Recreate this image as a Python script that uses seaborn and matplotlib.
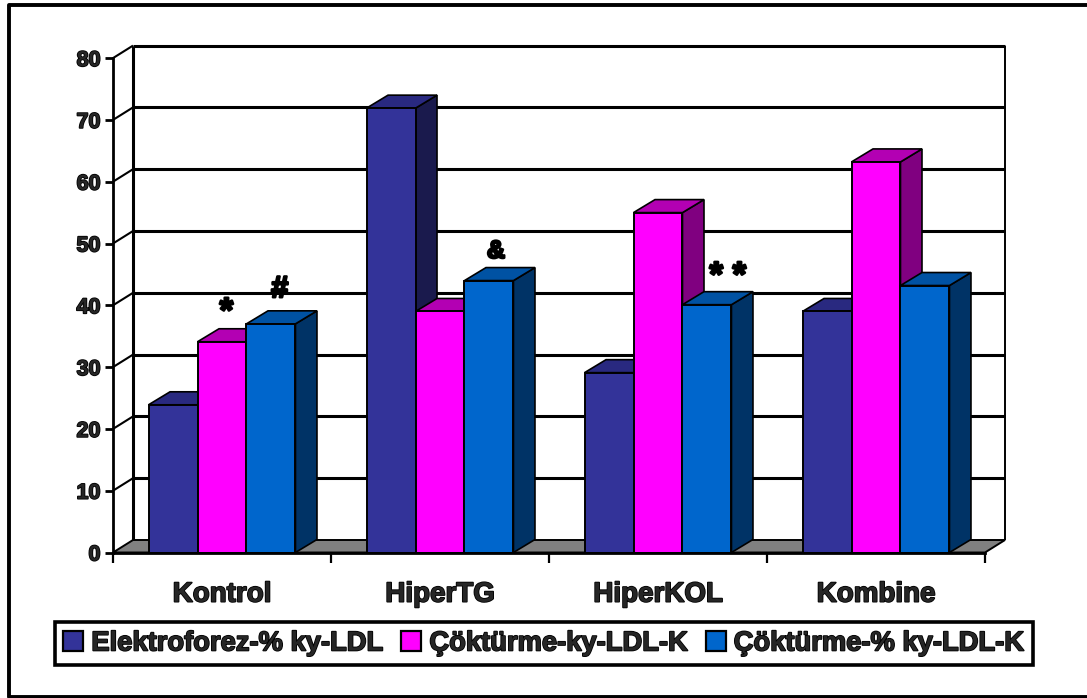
import matplotlib
matplotlib.use("Agg")
import matplotlib.pyplot as plt
import matplotlib.patheffects as pe
from matplotlib.lines import Line2D
from matplotlib.patches import Polygon, Patch
import pandas as pd
import seaborn as sns

# Values per group
categories = ["Kontrol", "HiperTG", "HiperKOL", "Kombine"]
elektroforez = [23.9, 71.9, 29.1, 39.0]
cokturme_k = [34.1, 39.0, 55.0, 63.2]
cokturme_pct = [37.0, 44.0, 40.1, 43.2]
series_names = ["Elektroforez-% ky-LDL", "Çöktürme-ky-LDL-K", "Çöktürme-% ky-LDL-K"]
y_ticks = [0, 10, 20, 30, 40, 50, 60, 70, 80]

# Significance marks: symbol, x in group units, y in axis units, font size
marks = ["*", "#", "&", "* *"]
mark_x = [0.02, 0.265, 1.257, 2.32]
mark_y = [38.9, 42.6, 48.8, 44.7]
mark_size = [25, 22, 18, 25]

front = ["#333399", "#FF00FF", "#0066CC"]
side = ["#1A1A4D", "#800080", "#003366"]
top = ["#292980", "#B300B3", "#0052A3"]

df = pd.DataFrame({
    "group": categories * 3,
    "series": [n for n in series_names for _ in categories],
    "value": elektroforez + cokturme_k + cokturme_pct,
})

sns.set_style("white")
plt.rcParams["font.family"] = ["Liberation Sans", "DejaVu Sans"]
plt.rcParams["font.weight"] = "bold"

W, H = 1087, 698
fig = plt.figure(figsize=(W / 100, H / 100), dpi=100, facecolor="white")
ax = fig.add_axes([113 / W, 1 - 552.5 / H, 872 / W, 494.4 / H])
ax.set_facecolor("none")

# Outer frame of the slide, open where it runs off the right edge
fig.add_artist(Line2D([1.0, 9 / W, 9 / W, 1.0],
                      [1 - 5 / H, 1 - 5 / H, 1 - 696.5 / H, 1 - 696.5 / H],
                      transform=fig.transFigure, color="black", linewidth=2.8,
                      solid_joinstyle="round"))

sns.barplot(data=df, x="group", y="value", hue="series", order=categories,
            hue_order=series_names, palette=front, width=0.674, gap=0, dodge=True,
            saturation=1, edgecolor="black", linewidth=1.4, legend=False, ax=ax)

ax.set_xlim(-0.5, 3.5)
ax.set_ylim(0, 80)
ax.set_xlabel("")
ax.set_ylabel("")

# Pseudo-3D depth expressed in data units
dx = 20 / (872 / 4)
dy = 12.5 / (494.4 / 80)
bar_dx = 21.5 / (872 / 4)
bar_dy = 13.0 / (494.4 / 80)
x0, x1 = -0.5, 3.5
thick = dict(color="black", clip_on=False, solid_capstyle="butt")

# Floor and back wall
ax.add_patch(Polygon([(x0, 0), (x1, 0), (x1 + dx, dy), (x0 + dx, dy)], closed=True,
                     facecolor="#808080", edgecolor="black", linewidth=1.4,
                     clip_on=False, zorder=1))
for t in y_ticks[1:]:
    ax.plot([x0 + dx, x1 + dx], [t + dy, t + dy], lw=2.2, zorder=1.5, **thick)
    ax.plot([x0, x0 + dx], [t, t + dy], lw=1.5, zorder=1.5, **thick)
ax.plot([x0 + dx, x0 + dx], [dy, 80 + dy], lw=2.2, zorder=1.5, **thick)
ax.plot([x1 + dx, x1 + dx], [dy, 80 + dy], lw=1.4, zorder=1.5, **thick)

# Side and top faces for every bar, layered so later series overlap earlier ones
n_cat = len(categories)
for i, bar in enumerate(ax.patches[:3 * n_cat]):
    s = i // n_cat
    x, w, h = bar.get_x(), bar.get_width(), bar.get_height()
    bar.set_zorder(5 + 3 * s)
    ax.add_patch(Polygon([(x + w, 0), (x + w + bar_dx, bar_dy), (x + w + bar_dx, h + bar_dy), (x + w, h)],
                         closed=True, facecolor=side[s], edgecolor="black", linewidth=1.2,
                         clip_on=False, zorder=3 + 3 * s))
    ax.add_patch(Polygon([(x, h), (x + bar_dx, h + bar_dy), (x + w + bar_dx, h + bar_dy), (x + w, h)],
                         closed=True, facecolor=top[s], edgecolor="black", linewidth=1.2,
                         clip_on=False, zorder=4 + 3 * s))

# Axes, ticks and heavy labels
for name in ("top", "right"):
    ax.spines[name].set_visible(False)
for name in ("left", "bottom"):
    ax.spines[name].set_linewidth(2.0)
    ax.spines[name].set_color("black")
    ax.spines[name].set_zorder(20)

heavy = [pe.withStroke(linewidth=1.2, foreground="black")]
heavier = [pe.withStroke(linewidth=1.8, foreground="black")]
ax.set_yticks(y_ticks)
ax.tick_params(axis="y", length=6, width=2, color="black", left=True, pad=3)
ax.set_yticklabels([str(t) for t in y_ticks], fontsize=15.5, fontweight="bold",
                   path_effects=heavy)
ax.set_xticks(range(n_cat))
ax.set_xticklabels(categories, fontsize=20, fontweight="bold", path_effects=heavy)
ax.tick_params(axis="x", which="major", length=0, pad=21)
ax.set_xticks([x0, 0.5, 1.5, 2.5, x1], minor=True)
ax.tick_params(axis="x", which="minor", length=7, width=1.6, color="black", bottom=True)

for sym, mx, my, size in zip(marks, mark_x, mark_y, mark_size):
    ax.text(mx, my, sym, fontsize=size, fontweight="bold", ha="center", va="center",
            color="black", path_effects=heavier, zorder=30, clip_on=False)

handles = [Patch(facecolor=c, edgecolor="black", linewidth=1.6) for c in front]
leg = fig.legend(handles, series_names, ncol=3, loc="center",
                 bbox_to_anchor=(544 / W, 1 - 643.5 / H), fontsize=19.7, frameon=True,
                 fancybox=False, edgecolor="black", framealpha=1,
                 handlelength=0.73, handleheight=0.73, handletextpad=0.29,
                 columnspacing=0.64, borderpad=0.31, borderaxespad=0)
leg.get_frame().set_linewidth(2.6)
for txt in leg.get_texts():
    txt.set_fontweight("bold")
    txt.set_path_effects(heavy)

fig.savefig("out.png", dpi=100)
